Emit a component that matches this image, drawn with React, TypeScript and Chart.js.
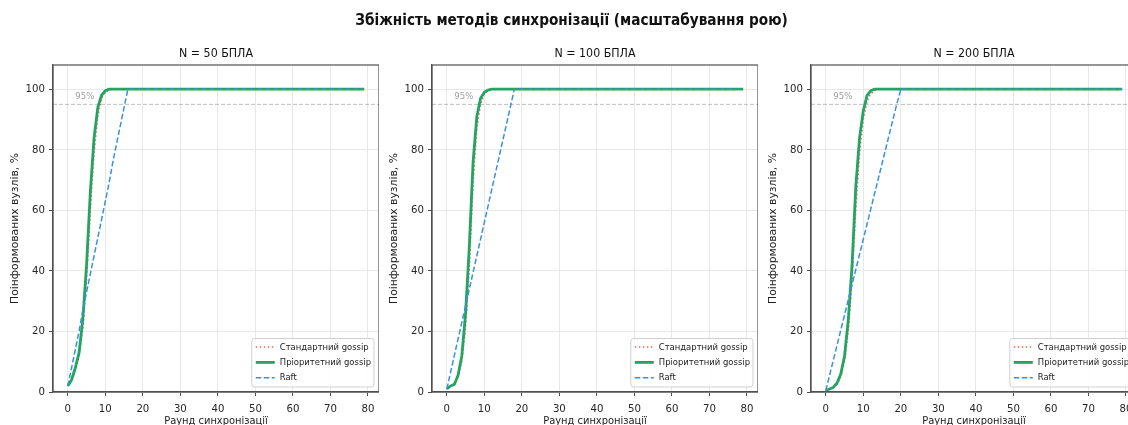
import React, { useEffect, useRef } from 'react';
import { Chart, registerables } from 'chart.js';

Chart.register(...registerables);

const FONT = '"DejaVu Sans Condensed", "DejaVu Sans", sans-serif';
const FONT_REG = '"DejaVu Sans", sans-serif';

// ---------- data ----------
const suptitle = 'Збіжність методів синхронізації (масштабування рою)';
const panelTitles = ['N = 50 БПЛА', 'N = 100 БПЛА', 'N = 200 БПЛА'];
const seriesLabels = ['Стандартний gossip', 'Пріоритетний gossip', 'Raft'];
const xTitle = 'Раунд синхронізації';
const yTitle = 'Поінформованих вузлів, %';
const xTicks = [0, 10, 20, 30, 40, 50, 60, 70, 80];
const yTicks = [0, 20, 40, 60, 80, 100];
const thresholdValue = 95;
const thresholdLabel = '95%';

const gossipRounds = [0, 1, 2, 3, 4, 5, 6, 7, 8, 9, 10, 11, 12, 13, 14, 79];

const std50 = [2, 4, 7, 12, 21, 37, 60, 79, 91, 97, 99, 99.7, 100, 100, 100, 100];
const pri50 = [2, 4, 8, 13, 24, 42, 66, 84, 94, 98, 99.5, 100, 100, 100, 100, 100];
const std100 = [1, 2, 3, 5, 10, 21, 41, 69, 87, 95, 98.5, 99.5, 100, 100, 100, 100];
const pri100 = [1, 2, 2.5, 5.5, 12, 26, 48, 76, 91, 97, 99, 99.7, 100, 100, 100, 100];
const std200 = [0.5, 1, 1.5, 2.5, 5, 10, 20, 37, 60, 79, 90, 96, 98.5, 99.5, 100, 100];
const pri200 = [0.5, 1, 1.5, 3, 6, 12, 24, 42, 68, 84, 93, 98, 99.5, 100, 100, 100];

const raftRounds50 = [0, 1, 2, 3, 4, 5, 6, 7, 8, 9, 10, 11, 12, 13, 14, 15, 16, 79];
const raft50 = [2, 8, 14, 20, 27, 33, 39, 45, 51, 57, 63, 69, 76, 82, 88, 94, 100, 100];
const raftRounds100 = [0, 1, 2, 3, 4, 5, 6, 7, 8, 9, 10, 11, 12, 13, 14, 15, 16, 17, 18, 79];
const raft100 = [1, 6.5, 12, 17.5, 23, 28.5, 34, 39.5, 45, 50.5, 56, 61.5, 67, 72.5, 78, 83.5, 89, 94.5, 100, 100];
const raftRounds200 = [0, 1, 2, 3, 4, 5, 6, 7, 8, 9, 10, 11, 12, 13, 14, 15, 16, 17, 18, 19, 20, 79];
const raft200 = [0.5, 5.5, 10.5, 15.5, 20.5, 25.5, 30.5, 35.5, 40.5, 45.5, 50.5, 55.5, 60.5, 65.5, 70.5, 75.5, 80.5, 85.5, 90.5, 95.5, 100, 100];

const X_MIN = -3.95;
const X_MAX = 82.95;
const Y_MIN = 0;
const Y_MAX = 108;

// ---------- layout ----------
const PANEL_LEFTS = [53, 432, 811];
const Y_AXIS_W = 53;
const PLOT_W = 326;
const RIGHT_PAD = 12;
const CANVAS_W = Y_AXIS_W + PLOT_W + RIGHT_PAD;
const CANVAS_H = 440;
const PLOT_TOP = 65;
const X_AXIS_H = 48;

const panels = [
  { title: panelTitles[0], std: std50, pri: pri50, raftR: raftRounds50, raft: raft50 },
  { title: panelTitles[1], std: std100, pri: pri100, raftR: raftRounds100, raft: raft100 },
  { title: panelTitles[2], std: std200, pri: pri200, raftR: raftRounds200, raft: raft200 },
];

const toPts = (xs: number[], ys: number[]) => xs.map((x, i) => ({ x, y: ys[i] }));

const decorPlugin = (title: string) => ({
  id: 'decor',
  beforeDraw(chart: any) {
    const ctx = chart.ctx;
    const a = chart.chartArea;
    ctx.save();
    ctx.fillStyle = '#ffffff';
    ctx.fillRect(0, 0, chart.width, chart.height);
    ctx.fillStyle = '#111111';
    ctx.font = `12.3px ${FONT}`;
    ctx.textAlign = 'center';
    ctx.textBaseline = 'middle';
    ctx.fillText(title, (a.left + a.right) / 2, 53.5);
    ctx.restore();
  },
  afterDatasetsDraw(chart: any) {
    const ctx = chart.ctx;
    const a = chart.chartArea;
    const xs = chart.scales.x;
    const ys = chart.scales.y;
    ctx.save();
    // threshold label
    ctx.font = `9.5px ${FONT}`;
    ctx.fillStyle = 'rgba(128,128,128,0.75)';
    ctx.textAlign = 'left';
    ctx.textBaseline = 'bottom';
    ctx.fillText(thresholdLabel, xs.getPixelForValue(2), ys.getPixelForValue(96));
    // spines
    ctx.strokeStyle = '#505050';
    ctx.lineWidth = 1.2;
    ctx.strokeRect(a.left, a.top, a.right - a.left, a.bottom - a.top);
    // legend
    const ds = chart.data.datasets.slice(0, 3);
    ctx.font = `9.4px ${FONT}`;
    const tw = Math.max(...ds.map((d: any) => ctx.measureText(d.label).width));
    const bw = 27 + tw + 4;
    const bh = 48.5;
    const bx = a.right - 5 - bw;
    const by = a.bottom - 5 - bh;
    ctx.beginPath();
    ctx.roundRect(bx, by, bw, bh, 3);
    ctx.fillStyle = 'rgba(255,255,255,0.85)';
    ctx.fill();
    ctx.strokeStyle = '#d0d0d0';
    ctx.lineWidth = 1;
    ctx.stroke();
    ds.forEach((d: any, i: number) => {
      const cy = by + 8.6 + i * 15.3;
      ctx.beginPath();
      ctx.setLineDash(d.borderDash || []);
      ctx.strokeStyle = d.borderColor;
      ctx.lineWidth = d.borderWidth;
      ctx.moveTo(bx + 4, cy);
      ctx.lineTo(bx + 23, cy);
      ctx.stroke();
      ctx.setLineDash([]);
      ctx.fillStyle = '#222222';
      ctx.textAlign = 'left';
      ctx.textBaseline = 'middle';
      ctx.fillText(d.label, bx + 28, cy);
    });
    ctx.restore();
  },
});

const makeConfig = (p: typeof panels[number]): any => ({
  type: 'line',
  data: {
    datasets: [
      {
        label: seriesLabels[0],
        data: toPts(gossipRounds, p.std),
        borderColor: 'rgba(231,76,60,0.85)',
        borderWidth: 1.5,
        borderDash: [1.5, 2.5],
        pointRadius: 0,
        order: 2,
      },
      {
        label: seriesLabels[1],
        data: toPts(gossipRounds, p.pri),
        borderColor: '#23a462',
        borderWidth: 2.8,
        pointRadius: 0,
        order: 1,
      },
      {
        label: seriesLabels[2],
        data: toPts(p.raftR, p.raft),
        borderColor: '#3792de',
        borderWidth: 1.5,
        borderDash: [5.5, 2.5],
        pointRadius: 0,
        order: 0,
      },
      {
        label: thresholdLabel,
        data: [
          { x: X_MIN, y: thresholdValue },
          { x: X_MAX, y: thresholdValue },
        ],
        borderColor: 'rgba(128,128,128,0.5)',
        borderWidth: 1,
        borderDash: [4, 2],
        pointRadius: 0,
        order: 3,
      },
    ],
  },
  options: {
    animation: false,
    responsive: false,
    maintainAspectRatio: false,
    devicePixelRatio: 1,
    events: [],
    layout: { padding: { top: PLOT_TOP, right: RIGHT_PAD, left: 0, bottom: 0 } },
    plugins: {
      legend: { display: false },
      tooltip: { enabled: false },
      title: { display: false },
    },
    scales: {
      x: {
        type: 'linear',
        min: X_MIN,
        max: X_MAX,
        afterBuildTicks: (s: any) => {
          s.ticks = xTicks.map((v) => ({ value: v }));
        },
        afterFit: (s: any) => {
          s.height = X_AXIS_H;
        },
        ticks: {
          font: { family: FONT, size: 11.3 },
          color: '#262626',
          padding: 6,
          maxRotation: 0,
        },
        grid: {
          color: '#e8e8e8',
          lineWidth: 1,
          tickColor: '#4a4a4a',
          tickLength: 4,
        },
        border: { display: true, color: '#505050', width: 1.2 },
        title: {
          display: true,
          text: xTitle,
          font: { family: FONT, size: 11 },
          color: '#222222',
          padding: { top: 0, bottom: 11.8 },
        },
      },
      y: {
        type: 'linear',
        min: Y_MIN,
        max: Y_MAX,
        afterBuildTicks: (s: any) => {
          s.ticks = yTicks.map((v) => ({ value: v }));
        },
        afterFit: (s: any) => {
          s.width = Y_AXIS_W;
        },
        ticks: {
          font: { family: FONT, size: 11.3 },
          color: '#262626',
          padding: 4,
        },
        grid: {
          color: '#e8e8e8',
          lineWidth: 1,
          tickColor: '#4a4a4a',
          tickLength: 4,
        },
        border: { display: true, color: '#505050', width: 1.2 },
        title: {
          display: true,
          text: yTitle,
          font: { family: FONT_REG, size: 10.8 },
          color: '#222222',
          padding: { top: 9, bottom: 0 },
        },
      },
    },
  },
  plugins: [decorPlugin(p.title)],
});

export default function App() {
  const r0 = useRef<HTMLCanvasElement>(null);
  const r1 = useRef<HTMLCanvasElement>(null);
  const r2 = useRef<HTMLCanvasElement>(null);
  const refs = [r0, r1, r2];

  useEffect(() => {
    const charts = panels.map((p, i) => new Chart(refs[i].current as HTMLCanvasElement, makeConfig(p)));
    return () => charts.forEach((c) => c.destroy());
  }, []);

  return (
    <div
      style={{
        position: 'fixed',
        left: 0,
        top: 0,
        width: 1128,
        height: 425,
        overflow: 'hidden',
        background: '#ffffff',
      }}
    >
      {panels.map((p, i) => (
        <canvas
          key={i}
          ref={refs[i]}
          width={CANVAS_W}
          height={CANVAS_H}
          style={{
            position: 'absolute',
            left: PANEL_LEFTS[i] - Y_AXIS_W,
            top: 0,
            width: CANVAS_W,
            height: CANVAS_H,
          }}
        />
      ))}
      <div
        style={{
          position: 'absolute',
          left: 0,
          top: 11,
          width: 1143,
          textAlign: 'center',
          font: `bold 15.2px ${FONT}`,
          lineHeight: '18px',
          color: '#111111',
          whiteSpace: 'nowrap',
        }}
      >
        {suptitle}
      </div>
    </div>
  );
}
